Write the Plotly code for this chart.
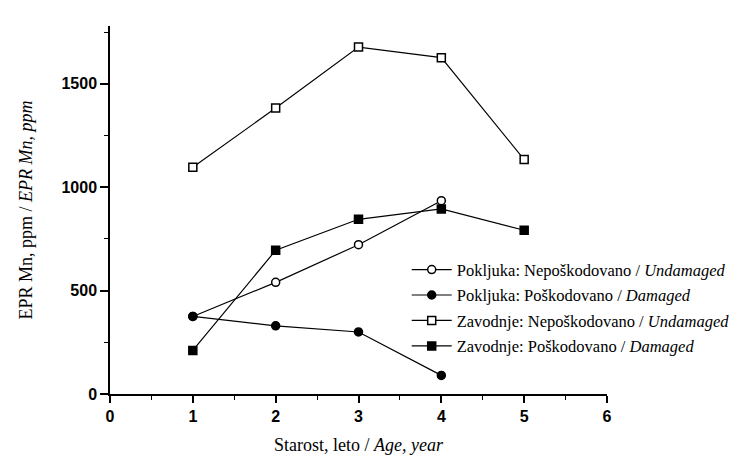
import plotly.graph_objects as go

ages = [1, 2, 3, 4, 5]
pokljuka_undamaged = [375, 540, 722, 935]
pokljuka_damaged = [375, 330, 300, 90]
zavodnje_undamaged = [1097, 1383, 1678, 1627, 1134]
zavodnje_damaged = [211, 695, 845, 895, 792]

names = [
    "Pokljuka: Nepoškodovano / <i>Undamaged</i>",
    "Pokljuka: Poškodovano / <i>Damaged</i>",
    "Zavodnje: Nepoškodovano / <i>Undamaged</i>",
    "Zavodnje: Poškodovano / <i>Damaged</i>",
]

fig = go.Figure()
series = [
    (ages[:4], pokljuka_undamaged, "circle", "white", 8),
    (ages[:4], pokljuka_damaged, "circle", "black", 8),
    (ages, zavodnje_undamaged, "square", "white", 8),
    (ages, zavodnje_damaged, "square", "black", 8),
]
for i, ((x, y, sym, fill, sz), nm) in enumerate(zip(series, names)):
    fig.add_trace(go.Scatter(
        x=x, y=y, name=nm, mode="lines+markers", legendgroup=f"g{i}",
        line=dict(color="black", width=1.2),
        marker=dict(symbol=sym, size=sz, color=fill,
                    line=dict(color="black", width=1.5)),
    ))

fig.update_layout(
    width=739, height=456,
    margin=dict(l=102, r=108, t=18, b=60),
    paper_bgcolor="white", plot_bgcolor="white",
    font=dict(family="Liberation Serif", color="black", size=16),
    showlegend=True,
    legend=dict(x=0.597, y=0.385, xanchor="left", yanchor="top",
                bgcolor="rgba(0,0,0,0)", font=dict(family="Liberation Serif", size=16.5),
                tracegroupgap=1, itemwidth=40),
    xaxis=dict(
        range=[0, 6], tickmode="array", tickvals=[0, 1, 2, 3, 4, 5, 6],
        ticks="outside", ticklen=7, tickwidth=1.5, tickcolor="black",
        showline=True, linecolor="black", linewidth=1.5, showgrid=False, zeroline=False,
        tickfont=dict(family="Liberation Sans", size=16, weight="bold"),
        minor=dict(tickvals=[0.5, 1.5, 2.5, 3.5, 4.5, 5.5], ticks="outside", ticklen=4,
                   tickcolor="black", tickwidth=1),
        title=dict(text="Starost, leto / <i>Age, year</i>",
                   font=dict(family="Liberation Serif", size=18), standoff=14),
    ),
    yaxis=dict(
        range=[0, 1780], tickmode="array", tickvals=[0, 500, 1000, 1500],
        ticks="outside", ticklen=8, tickwidth=1.5, tickcolor="black",
        showline=True, linecolor="black", linewidth=1.5, showgrid=False, zeroline=False,
        tickfont=dict(family="Liberation Sans", size=16, weight="bold"),
        minor=dict(tickvals=[250, 750, 1250, 1750], ticks="outside", ticklen=4,
                   tickcolor="black", tickwidth=1),
        title=dict(text="EPR Mn, ppm / <i>EPR Mn, ppm</i>",
                   font=dict(family="Liberation Serif", size=18), standoff=24),
    ),
)

fig.write_html("out.html")
